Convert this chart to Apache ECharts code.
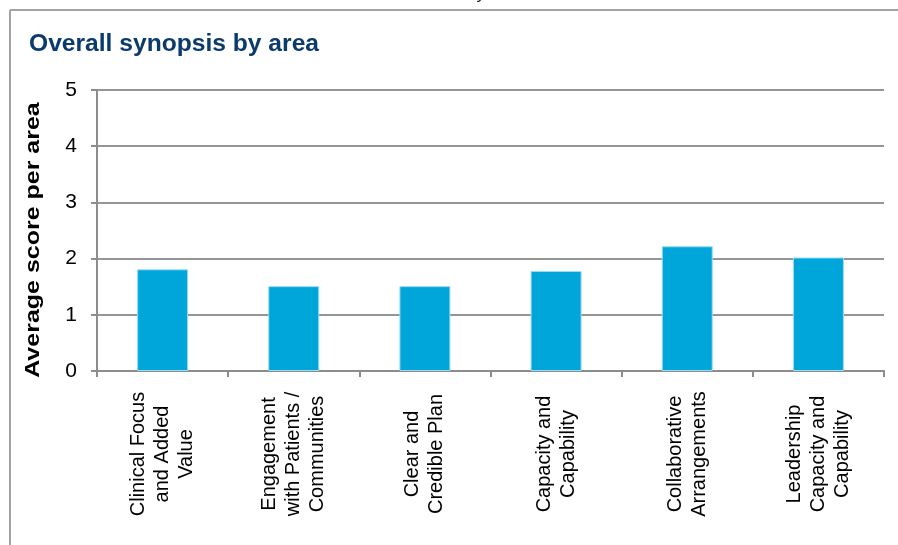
<!DOCTYPE html>
<html>
<head>
<meta charset="utf-8">
<script src="https://cdn.jsdelivr.net/npm/echarts@6/dist/echarts.min.js"></script>
<style>
html,body{margin:0;padding:0;background:#fff;}
#chart{width:898px;height:545px;}
</style>
</head>
<body>
<div id="chart"></div>
<script>
var categories = [
  'Clinical Focus\nand Added\nValue',
  'Engagement\nwith Patients /\nCommunities',
  'Clear and\nCredible Plan',
  'Capacity and\nCapability',
  'Collaborative\nArrangements',
  'Leadership\nCapacity and\nCapability'
];
var scores = [1.81, 1.51, 1.51, 1.78, 2.22, 2.02];
var yTicks = [0, 1, 2, 3, 4, 5];
var titleText = 'Overall synopsis by area';
var yName = 'Average score per area';

var chart = echarts.init(document.getElementById('chart'), null, {renderer: 'canvas'});
var option = {
  animation: false,
  backgroundColor: '#fff',
  grid: {left: 97, right: 14, top: 90, bottom: 174, containLabel: false},
  xAxis: {
    type: 'category',
    data: categories,
    boundaryGap: true,
    axisLine: {lineStyle: {color: '#8c8c8c', width: 2}},
    axisTick: {show: true, length: 6, lineStyle: {color: '#8c8c8c', width: 2}},
    axisLabel: {
      interval: 0,
      rotate: 90,
      align: 'center',
      verticalAlign: 'middle',
      margin: 83,
      fontFamily: 'Liberation Sans, Arial, sans-serif',
      fontSize: 20,
      lineHeight: 24,
      color: '#000'
    }
  },
  yAxis: {
    type: 'value',
    min: yTicks[0],
    max: yTicks[yTicks.length - 1],
    interval: 1,
    axisLine: {show: true, lineStyle: {color: '#8c8c8c', width: 2}},
    axisTick: {show: true, length: 6, lineStyle: {color: '#8c8c8c', width: 2}},
    axisLabel: {
      margin: 20,
      fontFamily: 'Liberation Sans, Arial, sans-serif',
      fontSize: 21,
      color: '#000'
    },
    splitLine: {show: true, lineStyle: {color: '#959595', width: 2}}
  },
  series: [{
    type: 'bar',
    data: scores,
    barWidth: 51,
    itemStyle: {color: '#00A6DA', borderColor: '#9ADCF2', borderWidth: 1}
  }],
  graphic: [
    {type: 'line', shape: {x1: 10, y1: 10, x2: 898, y2: 10}, style: {stroke: '#a3a3a3', lineWidth: 2}, silent: true},
    {type: 'line', shape: {x1: 10, y1: 10, x2: 10, y2: 545}, style: {stroke: '#a3a3a3', lineWidth: 2}, silent: true},
    {type: 'text', x: 478, y: -13, style: {text: 'y', font: 'italic 16px Liberation Sans, Arial, sans-serif', fill: '#222'}, silent: true},
    {type: 'text', x: 29, y: 45, scaleX: 1.07, style: {text: titleText, font: 'bold 23px Liberation Sans, Arial, sans-serif', fill: '#0B3A6C', textVerticalAlign: 'middle'}, silent: true},
    {type: 'text', x: 33, y: 240, rotation: Math.PI / 2, scaleX: 1.19, style: {text: yName, font: 'bold 21px Liberation Sans, Arial, sans-serif', fill: '#000', textAlign: 'center', textVerticalAlign: 'middle'}, silent: true}
  ]
};
chart.setOption(option);
</script>
</body>
</html>
